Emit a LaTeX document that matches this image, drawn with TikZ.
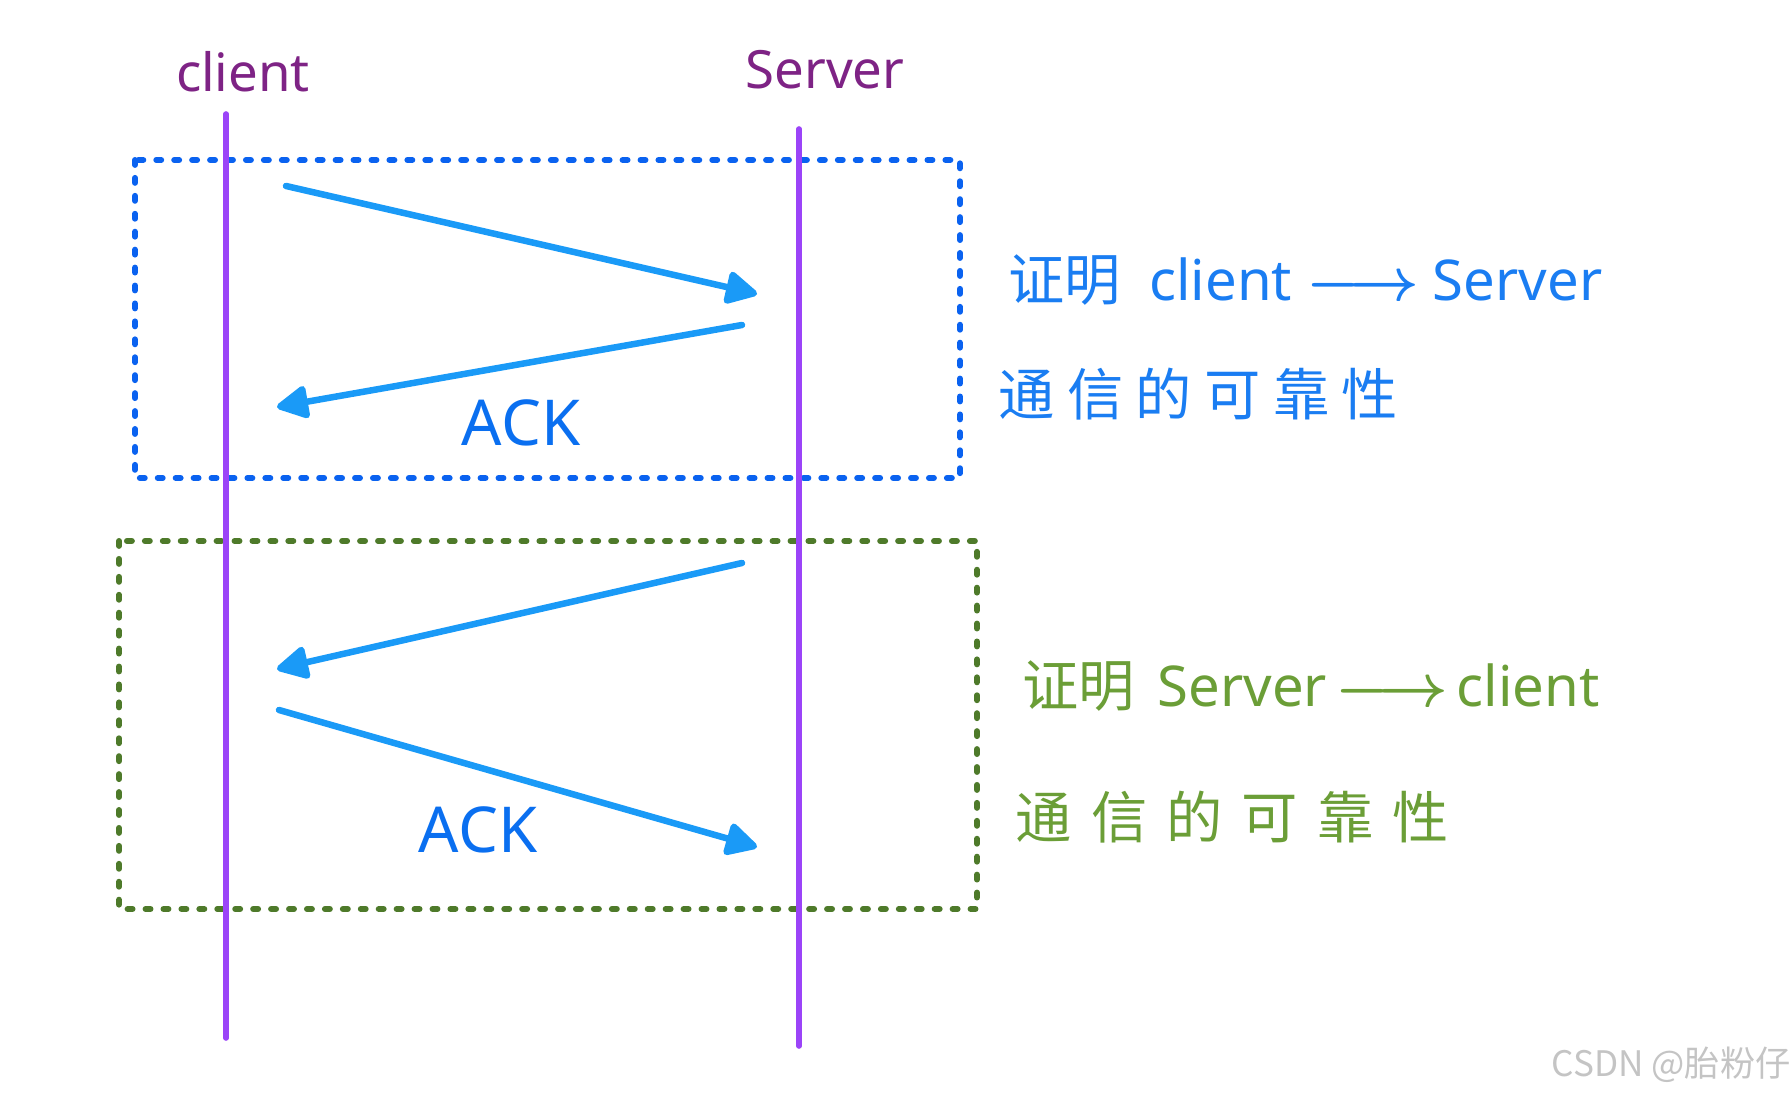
\documentclass[tikz,border=0pt]{standalone}
\usepackage{fontspec}
\setmainfont{Noto Sans}
\newfontfamily\cjk{Noto Sans CJK SC}
\newfontfamily\cjkwide[LetterSpace=22]{Noto Sans CJK SC}
\newfontfamily\cjkwider[LetterSpace=34]{Noto Sans CJK SC}
\usetikzlibrary{arrows.meta,positioning}
\definecolor{life}{HTML}{9B44F8}
\definecolor{who}{HTML}{7E2385}
\definecolor{msg}{HTML}{1A9AF7}
\definecolor{ackc}{HTML}{0A6FF0}
\definecolor{boxA}{HTML}{0A62F0}
\definecolor{noteA}{HTML}{1A7DF2}
\definecolor{boxB}{HTML}{4E7A2A}
\definecolor{noteB}{HTML}{6B9E37}
\definecolor{wmark}{HTML}{C4C4C4}
\tikzset{
  >={Triangle[length=10pt,width=10pt,round]},
  every picture/.style={line cap=round, line join=round},
  actor/.style={font=\fontsize{15}{18}\selectfont, text=who, inner sep=0pt},
  lifeline/.style={draw=life, line width=1.6pt},
  msgarr/.style={->, draw=msg, line width=1.85pt},
  acklbl/.style={font=\fontsize{18}{22}\selectfont, text=ackc, inner sep=0pt},
  checkbox/.style={line width=1.7pt, dash pattern=on 1.4pt off 3.7pt},
  note/.style={font=\fontsize{16}{20}\selectfont, anchor=west, inner sep=0pt},
}

\begin{document}
\begin{tikzpicture}[x=0.01cm, y=-0.01cm]
  \useasboundingbox (0,0) rectangle (1792,1095);
  % ===================== the two checks =====================
  \draw[checkbox, draw=boxA] (135,160) rectangle (960,478);
  \draw[checkbox, draw=boxB] (119,541) rectangle (977,909);

  % ===================== actors and lifelines =====================
  \node[actor] (client) at (243,72) {client};
  \node[actor] (server) at (825,70) {Server};
  \coordinate (client-top) at (226,114); \coordinate (client-bot) at (226,1038);
  \coordinate (server-top) at (799,129); \coordinate (server-bot) at (799,1046);
  \draw[lifeline] (client-top) -- (client-bot);
  \draw[lifeline] (server-top) -- (server-bot);

  % ===================== messages =====================
  \coordinate (m1s) at (286,186); \coordinate (m1e) at (757,294);
  \coordinate (m2s) at (742,325); \coordinate (m2e) at (277,407);
  \coordinate (m3s) at (742,563); \coordinate (m3e) at (277,669);
  \coordinate (m4s) at (279,710); \coordinate (m4e) at (757,847);
  \draw[msgarr] (m1s) -- (m1e);
  \draw[msgarr] (m2s) -- (m2e);
  \draw[msgarr] (m3s) -- (m3e);
  \draw[msgarr] (m4s) -- (m4e);
  \node[acklbl] (ack1) at (521,423) {ACK};
  \node[acklbl] (ack2) at (478,830) {ACK};

  % ===================== notes =====================
  \node[note, text=noteA] (noteA1) at (1008,280) {{\cjk 证明}\hspace{0.5em}client\hspace{0.25em}{\boldmath$\longrightarrow$}\hspace{0.25em}Server};
  \node[note, text=noteA] (noteA2) at (998,394) {\cjkwide 通信的可靠性};
  \node[note, text=noteB] (noteB1) at (1022,686) {{\cjk 证明}\hspace{0.4em}Server\hspace{0.15em}{\boldmath$\longrightarrow$}\hspace{0.15em}client};
  \node[note, text=noteB] (noteB2) at (1015,817) {\cjkwider 通信的可靠性};

  \node[font=\fontsize{10}{12}\selectfont\cjk, text=wmark] (wm) at (1671,1065) {CSDN @胎粉仔};
\end{tikzpicture}
\end{document}
